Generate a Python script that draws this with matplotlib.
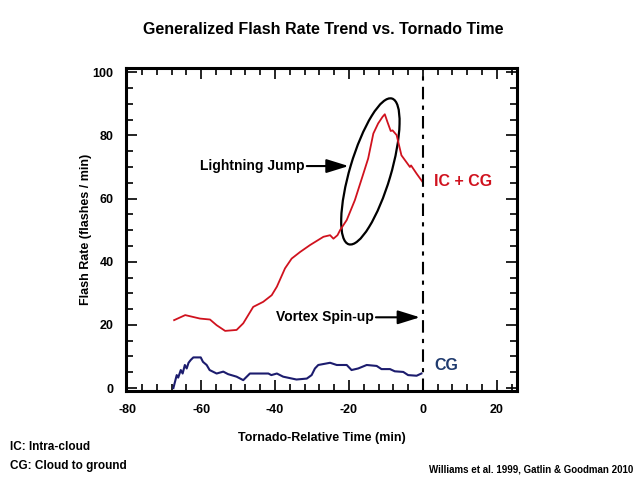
import numpy as np
import matplotlib
matplotlib.use("Agg")
import matplotlib.pyplot as plt
from matplotlib.patches import Ellipse
from matplotlib.transforms import ScaledTranslation
from matplotlib.ticker import MultipleLocator

plt.rcParams['font.family'] = ['Liberation Sans', 'DejaVu Sans']
plt.rcParams['font.weight'] = 'bold'
plt.rcParams['axes.unicode_minus'] = False

# IC + CG total flash rate
total_t = [-67.3, -64.3, -60.3, -57.6, -55.8, -53.5, -50.4, -48.6, -45.9, -43.2,
           -40.9, -39.5, -37.3, -35.5, -33.2, -30.5, -26.9, -25.1, -24.2, -23.1,
           -22.4, -20.6, -18.4, -16.1, -14.8, -13.4, -12.1, -10.9, -10.3, -9.6,
           -8.7, -8.2, -7.1, -5.8, -3.5, -3.2, -1.7, -0.1]
total_rate = [21.5, 23.1, 22.0, 21.7, 19.9, 18.1, 18.4, 20.5, 25.7, 27.3,
              29.4, 32.1, 37.9, 41.0, 43.1, 45.3, 47.9, 48.4, 47.3, 48.4,
              50.0, 53.2, 59.5, 67.9, 72.7, 80.6, 83.8, 85.9, 86.7, 84.3,
              81.4, 81.6, 80.1, 73.7, 70.0, 70.5, 67.9, 65.3]

# CG flash rate
cg_t = [-67.5, -66.6, -66.2, -65.5, -65.0, -64.4, -63.9, -63.4, -62.8, -62.1,
        -60.1, -59.5, -58.5, -57.7, -55.8, -54.0, -52.7, -50.4, -48.6, -46.8,
        -41.8, -41.0, -39.5, -37.8, -34.2, -31.4, -30.1, -29.2, -28.3, -25.1,
        -23.3, -20.6, -19.3, -17.5, -15.2, -12.5, -11.2, -8.9, -7.6, -5.3,
        -4.0, -1.7, -0.4]
cg_rate = [0.0, 4.1, 3.3, 5.7, 4.6, 7.3, 6.2, 8.0, 8.9, 9.7,
           9.7, 8.3, 7.3, 5.7, 4.6, 5.2, 4.4, 3.6, 2.5, 4.6,
           4.6, 4.1, 4.6, 3.6, 2.7, 3.0, 4.1, 6.2, 7.3, 8.0,
           7.3, 7.3, 5.7, 6.2, 7.3, 7.0, 6.0, 6.0, 5.3, 5.1,
           4.1, 3.9, 4.6]

red = '#d0121e'
navy = '#1c1c6e'

fig = plt.figure(figsize=(6.4, 4.8), dpi=100)
ax = fig.add_axes([0.197, 0.185, 0.611, 0.673])

ax.plot(total_t, total_rate, color=red, lw=1.3)
ax.plot(cg_t, cg_rate, color=navy, lw=1.5)
ax.axvline(0, color='black', lw=1.5, dashes=(6, 3, 2, 3))

ax.set_xlim(-80.3, 25.5)
ax.set_ylim(-1, 101.3)
ax.xaxis.set_major_locator(MultipleLocator(20))
ax.xaxis.set_minor_locator(MultipleLocator(4))
ax.yaxis.set_major_locator(MultipleLocator(20))
ax.yaxis.set_minor_locator(MultipleLocator(5))
ax.tick_params(which='both', direction='in', top=True, right=True,
               width=1.2, labelsize=9)
ax.tick_params(which='major', length=8, pad=9)
ax.tick_params(which='minor', length=5)
for s in ax.spines.values():
    s.set_linewidth(2.2)

ax.set_xlabel('Tornado-Relative Time (min)', fontsize=9, fontweight='bold', labelpad=12)
ax.set_ylabel('Flash Rate (flashes / min)', fontsize=9, fontweight='bold')
ax.yaxis.set_label_coords(-0.088, 0.5)
fig.suptitle('Generalized Flash Rate Trend vs. Tornado Time', fontsize=11.5,
             fontweight='bold', x=0.505, y=0.955)

# lightning jump ellipse (drawn in inches around a data point)
ell = Ellipse((0, 0), 1.52, 0.41, angle=73.5, fill=False, ec='black', lw=1.6,
              transform=fig.dpi_scale_trans + ScaledTranslation(-14.2, 68.6, ax.transData))
ax.add_patch(ell)

arrow = dict(arrowstyle='-|>,head_length=0.9,head_width=0.28', color='black',
             lw=1.5, mutation_scale=15, shrinkA=0, shrinkB=0)
ax.text(-31.9, 70.3, 'Lightning Jump', ha='right', va='center', fontsize=10, fontweight='bold')
ax.annotate('', xy=(-20.1, 70.3), xytext=(-31.4, 70.3), arrowprops=arrow)
ax.text(-13.3, 22.4, 'Vortex Spin-up', ha='right', va='center', fontsize=10, fontweight='bold')
ax.annotate('', xy=(-0.8, 22.4), xytext=(-12.7, 22.4), arrowprops=arrow)

ax.text(3.0, 65.3, 'IC + CG', color=red, ha='left', va='center', fontsize=11.5, fontweight='bold')
ax.text(3.0, 7.0, 'CG', color='#1f3a6e', ha='left', va='center', fontsize=11.5, fontweight='bold')

fig.text(0.016, 0.069, 'IC: Intra-cloud', fontsize=8.5, fontweight='bold', va='center')
fig.text(0.016, 0.029, 'CG: Cloud to ground', fontsize=8.5, fontweight='bold', va='center')
fig.text(0.99, 0.021, 'Williams et al. 1999, Gatlin & Goodman 2010', fontsize=7,
         fontweight='bold', ha='right', va='center')

fig.savefig('out.png', dpi=100)
